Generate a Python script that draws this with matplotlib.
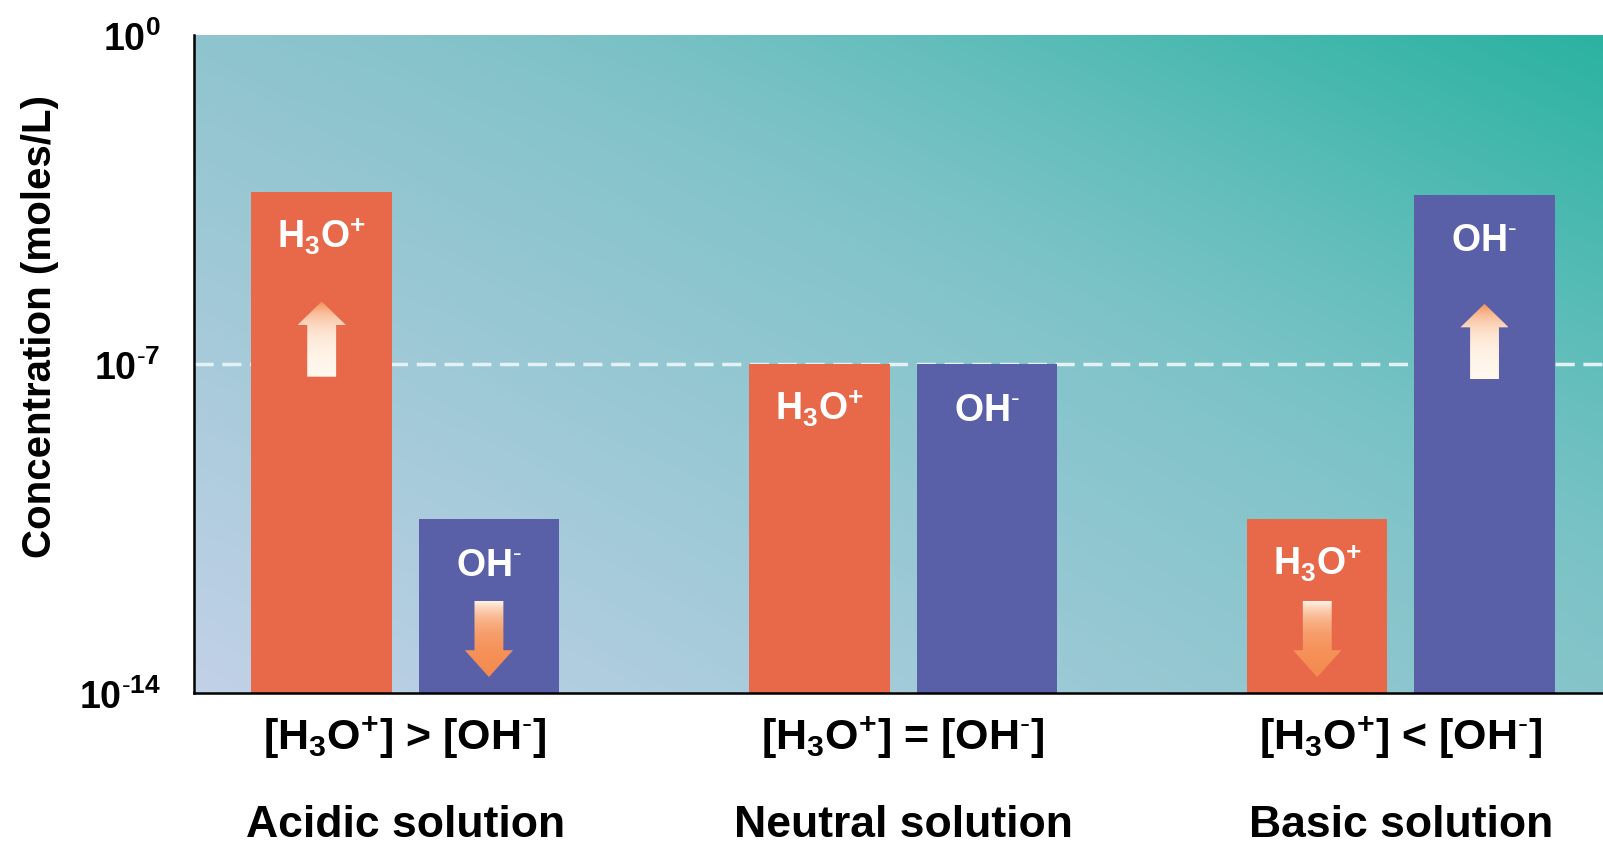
import matplotlib
matplotlib.use("Agg")
import matplotlib.pyplot as plt
from matplotlib.patches import Polygon
import numpy as np

# data (log10 of concentration, moles/L)
groups = ["Acidic solution", "Neutral solution", "Basic solution"]
relations = [r"[H$_\mathbf{3}$O$^\mathbf{+}$] > [OH$^{\text{-}}$]",
             r"[H$_\mathbf{3}$O$^\mathbf{+}$] = [OH$^{\text{-}}$]",
             r"[H$_\mathbf{3}$O$^\mathbf{+}$] < [OH$^{\text{-}}$]"]
h3o_log = [-3.35, -7.0, -10.3]
oh_log = [-10.3, -7.0, -3.4]
# which bars carry an arrow: +1 rising, -1 falling, 0 none
h3o_arrow = [1, 0, -1]
oh_arrow = [-1, 0, 1]
ytick_exp = [0, -7, -14]

h3o_color = "#E8694A"
oh_color = "#5A60A8"

plt.rcParams["font.family"] = ["Liberation Sans", "DejaVu Sans"]
plt.rcParams["mathtext.fontset"] = "custom"
plt.rcParams["mathtext.rm"] = "Liberation Sans"
plt.rcParams["mathtext.it"] = "Liberation Sans"
plt.rcParams["mathtext.bf"] = "Liberation Sans:bold"

fig = plt.figure(figsize=(16.03, 8.45), dpi=100)
ax = fig.add_axes([194 / 1603, 151 / 845, 1409 / 1603, 658 / 845])

# background gradient (light lavender bottom-left -> teal top-right)
n = 200
u, v = np.meshgrid(np.linspace(0, 1, n), np.linspace(0, 1, n))
bl = np.array([0.76, 0.82, 0.91])
tl = np.array([0.56, 0.77, 0.81])
br = np.array([0.52, 0.77, 0.79])
tr = np.array([0.34, 0.74, 0.72])
teal = np.array([0.17, 0.70, 0.63])
bg = ((1 - u) * (1 - v))[..., None] * bl + ((1 - u) * v)[..., None] * tl \
    + (u * (1 - v))[..., None] * br + (u * v)[..., None] * tr
wt = (np.clip(u + v - 1.1, 0, 0.9) / 0.9) ** 2
bg = bg * (1 - wt[..., None]) + teal * wt[..., None]
ax.imshow(bg, extent=[0, 1, 0, 1], transform=ax.transAxes, origin="lower",
          aspect="auto", zorder=0, interpolation="bilinear")

ax.set_yscale("log")
ymin = 1e-14
x = np.arange(len(groups))
off = 0.168
w = 0.282

h3o = 10.0 ** np.array(h3o_log)
oh = 10.0 ** np.array(oh_log)

ax.axhline(1e-7, color="#e4f2f5", lw=2.5, ls=(0, (5.5, 2.5)), zorder=1)
ax.bar(x - off, h3o - ymin, bottom=ymin, width=w, color=h3o_color, zorder=2)
ax.bar(x + off, oh - ymin, bottom=ymin, width=w, color=oh_color, zorder=2)

label_h3o = r"H$_\mathbf{3}$O$^\mathbf{+}$"
label_oh = r"OH$^{\text{-}}$"
for xi, hv, ov in zip(x, h3o, oh):
    ax.annotate(label_h3o, (xi - off, hv), xytext=(0, -40), textcoords="offset points",
                ha="center", va="baseline", color="white", fontsize=27,
                fontweight="bold", zorder=4)
    ax.annotate(label_oh, (xi + off, ov), xytext=(0, -40), textcoords="offset points",
                ha="center", va="baseline", color="white", fontsize=27,
                fontweight="bold", zorder=4)


def gradient_arrow(xc, top_log, direction):
    sw, hw = 0.058, 0.097
    if direction > 0:
        tip, tail, head = top_log - 2.32, top_log - 3.92, 0.5
        hb = tip - head
        lo, hi = tail, tip
        cols = [(1.0, 0.97, 0.93), (0.96, 0.55, 0.32)]
    else:
        tail, tip, head = top_log - 1.74, top_log - 3.36, 0.57
        hb = tip + head
        lo, hi = tip, tail
        cols = [(0.96, 0.55, 0.32), (1.0, 0.97, 0.93)]
    pts = [(xc - sw / 2, tail), (xc + sw / 2, tail), (xc + sw / 2, hb),
           (xc + hw / 2, hb), (xc, tip), (xc - hw / 2, hb), (xc - sw / 2, hb)]
    pts = [(px, 10.0 ** py) for px, py in pts]
    poly = Polygon(pts, closed=True, transform=ax.transData,
                   facecolor="none", edgecolor="none")
    ax.add_patch(poly)
    t = np.linspace(0, 1, 64)[:, None]
    grad = (1 - t) * np.array(cols[0]) + t * np.array(cols[1])
    grad = np.repeat(grad[:, None, :], 2, axis=1)
    im = ax.imshow(grad, extent=[xc - hw / 2, xc + hw / 2, 10.0 ** lo, 10.0 ** hi],
                   origin="lower", aspect="auto", zorder=3, interpolation="bilinear")
    im.set_clip_path(poly)


for xi, hl, ol, ha_, oa_ in zip(x, h3o_log, oh_log, h3o_arrow, oh_arrow):
    if ha_:
        gradient_arrow(xi - off, hl, ha_)
    if oa_:
        gradient_arrow(xi + off, ol, oa_)

ax.set_xlim(-0.4245, 2.406)
ax.set_ylim(1e-14, 1e0)
ax.set_aspect("auto")

ax.set_yticks([10.0 ** e for e in ytick_exp])
ax.set_yticklabels([r"$\mathbf{10^{%s}}$" % (str(e).replace("-", r"\text{-}"))
                    for e in ytick_exp], fontsize=27)
ax.yaxis.set_minor_locator(matplotlib.ticker.NullLocator())
ax.tick_params(axis="y", length=0, pad=24)
ax.set_xticks([])

for s in ["top", "right"]:
    ax.spines[s].set_visible(False)
for s in ["left", "bottom"]:
    ax.spines[s].set_linewidth(1.8)
    ax.spines[s].set_color("black")
    ax.spines[s].set_zorder(5)

ax.set_ylabel("Concentration (moles/L)", fontsize=29, fontweight="bold")
ax.yaxis.set_label_coords(-0.096, 0.558)

for xi, rel, g in zip(x, relations, groups):
    ax.text(xi, -0.0669, rel, transform=ax.get_xaxis_transform(), ha="center",
            va="center", fontsize=31, fontweight="bold")
    ax.text(xi, -0.2006, g, transform=ax.get_xaxis_transform(), ha="center",
            va="center", fontsize=32, fontweight="bold")

fig.savefig("out.png", dpi=100)
